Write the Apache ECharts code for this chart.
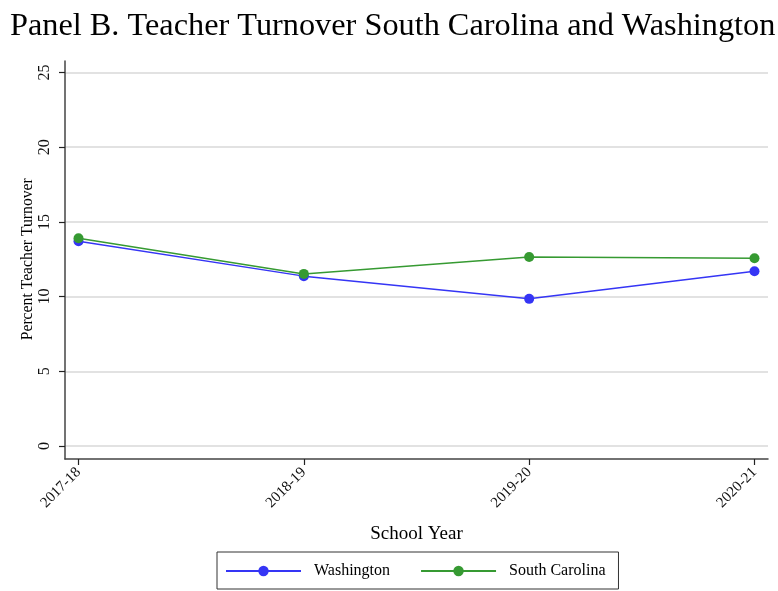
<!DOCTYPE html>
<html>
<head>
<meta charset="utf-8">
<script src="https://cdn.jsdelivr.net/npm/echarts@6/dist/echarts.min.js"></script>
<style>html,body{margin:0;padding:0;background:#fff}#c{width:778px;height:591px}</style>
</head>
<body>
<div id="c"></div>
<script>
const categories = ['2017-18', '2018-19', '2019-20', '2020-21'];
const washington = [13.7, 11.37, 9.85, 11.7];
const southCarolina = [13.9, 11.52, 12.65, 12.57];
const yTicks = [0, 5, 10, 15, 20, 25];

const serif = 'Liberation Serif';
const chart = echarts.init(document.getElementById('c'));
const idx = categories.map((c, i) => i);
chart.setOption({
  animation: false,
  backgroundColor: '#fff',
  title: {
    text: 'Panel B. Teacher Turnover South Carolina and Washington',
    left: 5, top: 6,
    textStyle: { fontFamily: serif, fontSize: 32.3, fontWeight: 'normal', color: '#000' }
  },
  legend: {
    left: 217, top: 552,
    padding: [11, 13, 10, 8],
    itemWidth: 75, itemHeight: 13, itemGap: 30,
    borderColor: '#333', borderWidth: 1, borderRadius: 0,
    textStyle: { fontFamily: serif, fontSize: 16, color: '#000', padding: [0, 0, 0, 8] },
    data: ['Washington', 'South Carolina']
  },
  grid: [
    { left: 65, right: 10, top: 61, bottom: 132 },
    { left: 65, right: 10, top: 72.5, bottom: 145 }
  ],
  xAxis: [
    { gridIndex: 0, type: 'value', min: 0, max: 1,
      axisLine: { show: true, onZero: false, lineStyle: { color: '#444', width: 1.5 } },
      axisTick: { show: false }, axisLabel: { show: false }, splitLine: { show: false } },
    { gridIndex: 1, type: 'value', min: -0.06, max: 3.06, offset: 13,
      axisLine: { show: false, onZero: false },
      axisTick: { show: true, length: 6, customValues: idx, lineStyle: { color: '#222', width: 1.2 } },
      axisLabel: { show: true, customValues: idx, rotate: 45, margin: 11,
        formatter: v => categories[Math.round(v)],
        fontFamily: serif, fontSize: 15, color: '#111' },
      splitLine: { show: false },
      name: 'School Year', nameLocation: 'middle', nameGap: 66, nameMoveOverlap: false,
      nameTextStyle: { fontFamily: serif, fontSize: 19, color: '#000' } }
  ],
  yAxis: [
    { gridIndex: 0, type: 'value', min: 0, max: 1,
      axisLine: { show: true, onZero: false, lineStyle: { color: '#444', width: 1.5 } },
      axisTick: { show: false }, axisLabel: { show: false }, splitLine: { show: false } },
    { gridIndex: 1, type: 'value', min: yTicks[0], max: yTicks[yTicks.length - 1], interval: 5,
      axisLine: { show: false, onZero: false },
      axisTick: { show: true, length: 6, lineStyle: { color: '#222', width: 1.2 } },
      axisLabel: { rotate: 90, margin: 12, fontFamily: serif, fontSize: 16, color: '#111' },
      splitLine: { show: true, lineStyle: { color: '#d9d9d9', width: 1.5 } },
      name: 'Percent Teacher Turnover', nameLocation: 'middle', nameGap: 29, nameMoveOverlap: false,
      nameTextStyle: { fontFamily: serif, fontSize: 15.7, color: '#000' } }
  ],
  series: [
    { name: 'Washington', type: 'line', xAxisIndex: 1, yAxisIndex: 1,
      data: washington.map((v, i) => [i, v]),
      symbol: 'circle', symbolSize: 10,
      itemStyle: { color: '#3535f5' }, lineStyle: { color: '#3535f5', width: 1.5 } },
    { name: 'South Carolina', type: 'line', xAxisIndex: 1, yAxisIndex: 1,
      data: southCarolina.map((v, i) => [i, v]),
      symbol: 'circle', symbolSize: 10,
      itemStyle: { color: '#369a32' }, lineStyle: { color: '#369a32', width: 1.5 } }
  ]
});
</script>
</body>
</html>
